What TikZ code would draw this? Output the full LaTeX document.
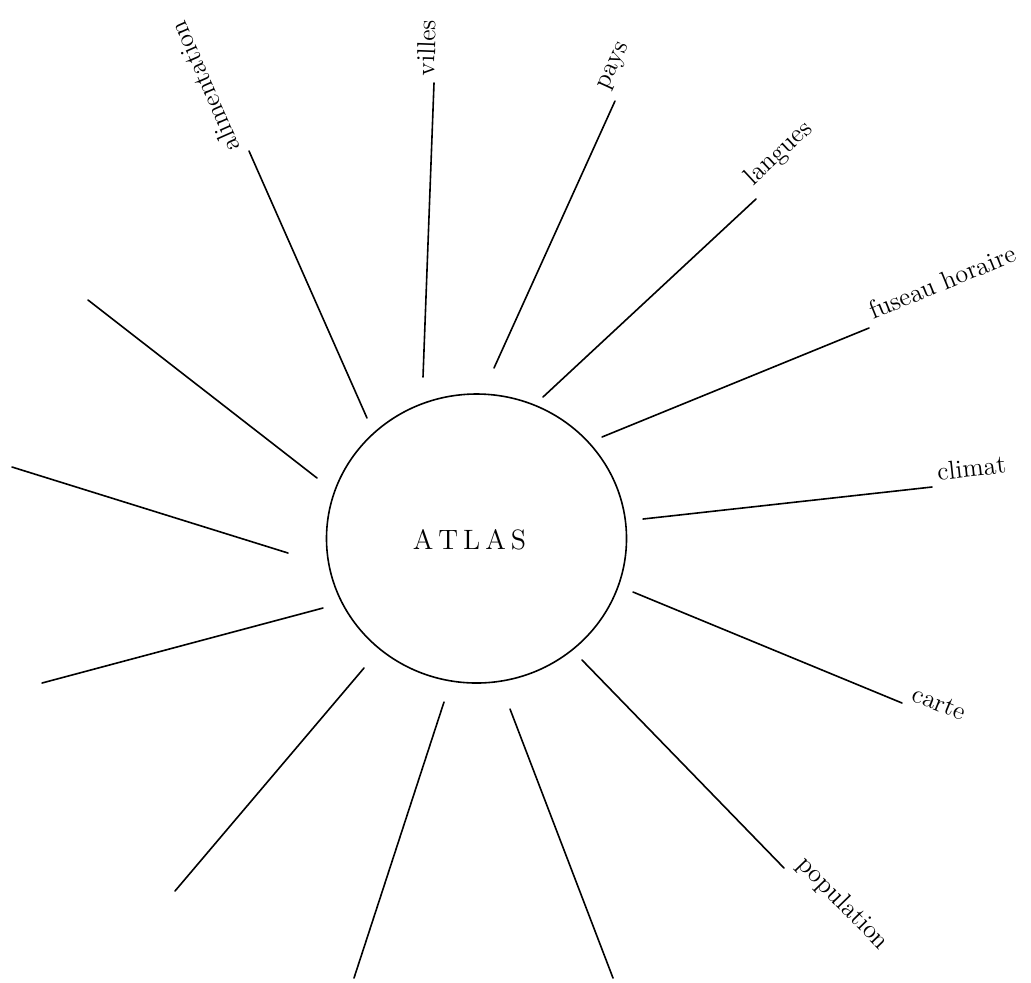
\documentclass[tikz,border=0pt]{standalone}
\usetikzlibrary{shapes.geometric}

\tikzset{
  ray/.style={line width=0.8pt, line cap=round},
  raylabel/.style={pos=1, sloped, allow upside down, anchor=south west,
    inner xsep=3pt, inner ysep=2.5pt, font=\fontsize{13}{15}\selectfont},
}

\begin{document}
\begin{tikzpicture}[x=0.5pt, y=-0.5pt]
  \useasboundingbox (0,0) rectangle (1031,982);

  % centre
  \node[draw, ellipse, line width=0.8pt, minimum width=150pt, minimum height=144.5pt] (hub) at (476.5,538.5) {};
  \node (title) at (469.5,540) {\fontsize{14}{16}\selectfont A\kern2.5pt T\kern2.5pt L\kern2.5pt A\kern2.5pt S};

  % ray ends
  \coordinate (ali-in) at (367,418);  \coordinate (ali-out) at (249,151);
  \coordinate (vil-in) at (423,377);  \coordinate (vil-out) at (434,83);
  \coordinate (pay-in) at (494,368);  \coordinate (pay-out) at (615,101);
  \coordinate (lan-in) at (543,397);  \coordinate (lan-out) at (756,199);
  \coordinate (fus-in) at (602,437);  \coordinate (fus-out) at (869,328);
  \coordinate (cli-in) at (643,519);  \coordinate (cli-out) at (932,487);
  \coordinate (car-in) at (633,592);  \coordinate (car-out) at (902,703);
  \coordinate (pop-in) at (582,660);  \coordinate (pop-out) at (784,868);
  \coordinate (f-in) at (510,709);    \coordinate (f-out) at (613,978);
  \coordinate (e-in) at (444,702);    \coordinate (e-out) at (354,978);
  \coordinate (d-in) at (364,668);    \coordinate (d-out) at (175,891);
  \coordinate (c-in) at (323,608);    \coordinate (c-out) at (42,683);
  \coordinate (b-in) at (288,553);    \coordinate (b-out) at (12,467);
  \coordinate (a-in) at (317,478);    \coordinate (a-out) at (88,300);

  % labelled rays
  \draw[ray] (ali-in) -- node[raylabel] {alimentation} (ali-out);
  \draw[ray] (vil-in) -- node[raylabel, anchor=base west] {villes} (vil-out);
  \draw[ray] (pay-in) -- node[raylabel] {pays} (pay-out);
  \draw[ray] (lan-in) -- node[raylabel] {langues} (lan-out);
  \draw[ray] (fus-in) -- node[raylabel] {fuseau horaire} (fus-out);
  \draw[ray] (cli-in) -- node[raylabel] {climat} (cli-out);
  \draw[ray] (car-in) -- node[raylabel] {carte} (car-out);
  \draw[ray] (pop-in) -- node[raylabel] {population} (pop-out);

  % empty rays
  \draw[ray] (f-in) -- (f-out);
  \draw[ray] (e-in) -- (e-out);
  \draw[ray] (d-in) -- (d-out);
  \draw[ray] (c-in) -- (c-out);
  \draw[ray] (b-in) -- (b-out);
  \draw[ray] (a-in) -- (a-out);
\end{tikzpicture}
\end{document}
